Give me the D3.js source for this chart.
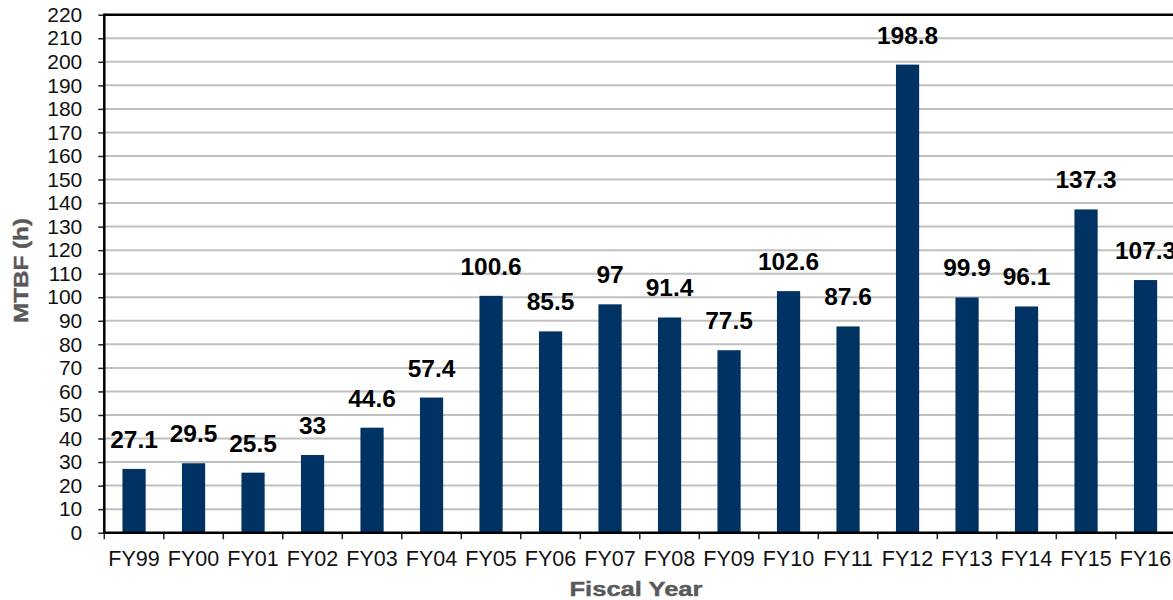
<!DOCTYPE html>
<html>
<head>
<meta charset="utf-8">
<script src="https://cdn.jsdelivr.net/npm/d3@7"></script>
<style>
  html, body { margin: 0; padding: 0; background: #fff; overflow: hidden; }
  svg { display: block; font-family: Arial, "Liberation Sans", sans-serif; }
</style>
</head>
<body>
<svg id="chart" width="1173" height="600"></svg>
<script>
// Mean time between failures per fiscal year
const categories = ["FY99","FY00","FY01","FY02","FY03","FY04","FY05","FY06","FY07","FY08",
                    "FY09","FY10","FY11","FY12","FY13","FY14","FY15","FY16"];
const mtbfHours = [27.1, 29.5, 25.5, 33, 44.6, 57.4, 100.6, 85.5, 97, 91.4,
                   77.5, 102.6, 87.6, 198.8, 99.9, 96.1, 137.3, 107.3];
const yTicks = d3.range(0, 221, 10);
const xTitle = "Fiscal Year";
const yTitle = "MTBF (h)";

const svg = d3.select("#chart");
const plotLeft = 104.3, plotRight = 1175.3, plotTop = 14.7, plotBottom = 532.7;

const x = d3.scaleBand().domain(categories).range([plotLeft, plotRight]).padding(0);
const y = d3.scaleLinear().domain([0, 220]).range([plotBottom, plotTop]);
const barW = x.step() * 0.39;

// horizontal gridlines
svg.append("g")
  .selectAll("line")
  .data(yTicks.filter(d => d > 0 && d < 220))
  .join("line")
  .attr("x1", plotLeft).attr("x2", plotRight)
  .attr("y1", d => y(d)).attr("y2", d => y(d))
  .attr("stroke", "#c0c0c0").attr("stroke-width", 2);

// bars
svg.append("g")
  .selectAll("rect")
  .data(mtbfHours)
  .join("rect")
  .attr("x", (d, i) => x(categories[i]) + x.bandwidth() / 2 - barW / 2)
  .attr("width", barW)
  .attr("y", d => y(d))
  .attr("height", d => plotBottom - y(d))
  .attr("fill", "#003263");

// value labels above bars
svg.append("g")
  .selectAll("text")
  .data(mtbfHours)
  .join("text")
  .attr("x", (d, i) => x(categories[i]) + x.bandwidth() / 2)
  .attr("y", d => y(d) - 21)
  .attr("text-anchor", "middle")
  .attr("font-size", "24.5px")
  .attr("font-weight", "bold")
  .attr("fill", "#000")
  .text(d => String(d));

// y axis
const yAxis = svg.append("g")
  .attr("transform", `translate(${plotLeft},0)`)
  .call(d3.axisLeft(y).tickValues(yTicks).tickSize(6).tickPadding(16).tickFormat(d3.format("d")));
yAxis.select(".domain").remove();
yAxis.selectAll(".tick line").attr("stroke", "#222").attr("stroke-width", 1.5);
yAxis.selectAll(".tick text")
  .attr("font-size", "21px").attr("fill", "#111")
  .attr("font-family", "Arial, 'Liberation Sans', sans-serif");

// x axis
const xAxis = svg.append("g")
  .attr("transform", `translate(0,${plotBottom})`)
  .call(d3.axisBottom(x).tickSize(0).tickPadding(18));
xAxis.select(".domain").remove();
xAxis.selectAll(".tick text")
  .attr("font-size", "21.5px").attr("fill", "#111")
  .attr("font-family", "Arial, 'Liberation Sans', sans-serif");
// category boundary ticks
svg.append("g")
  .selectAll("line")
  .data(categories.map((c, i) => i).concat([categories.length]))
  .join("line")
  .attr("x1", i => plotLeft + i * x.step()).attr("x2", i => plotLeft + i * x.step())
  .attr("y1", plotBottom).attr("y2", plotBottom + 6.5)
  .attr("stroke", "#222").attr("stroke-width", 1.5);

// frame lines
svg.append("line").attr("x1", plotLeft).attr("x2", plotRight).attr("y1", plotTop).attr("y2", plotTop)
  .attr("stroke", "#000").attr("stroke-width", 2.5);
svg.append("line").attr("x1", plotLeft).attr("x2", plotRight).attr("y1", plotBottom).attr("y2", plotBottom)
  .attr("stroke", "#000").attr("stroke-width", 2.5);
svg.append("line").attr("x1", plotLeft).attr("x2", plotLeft).attr("y1", plotTop - 1.2).attr("y2", plotBottom + 1.2)
  .attr("stroke", "#000").attr("stroke-width", 2.5);

// axis titles
svg.append("text")
  .attr("x", 636).attr("y", 595.5)
  .attr("text-anchor", "middle")
  .attr("font-size", "21px").attr("font-weight", "bold").attr("fill", "#595959")
  .attr("stroke", "#595959").attr("stroke-width", 0.4)
  .attr("textLength", 133).attr("lengthAdjust", "spacingAndGlyphs")
  .text(xTitle);
svg.append("text")
  .attr("transform", "translate(27.5,270.5) rotate(-90)")
  .attr("text-anchor", "middle")
  .attr("font-size", "21px").attr("font-weight", "bold").attr("fill", "#595959")
  .attr("stroke", "#595959").attr("stroke-width", 0.4)
  .attr("textLength", 105).attr("lengthAdjust", "spacingAndGlyphs")
  .text(yTitle);
</script>
</body>
</html>
